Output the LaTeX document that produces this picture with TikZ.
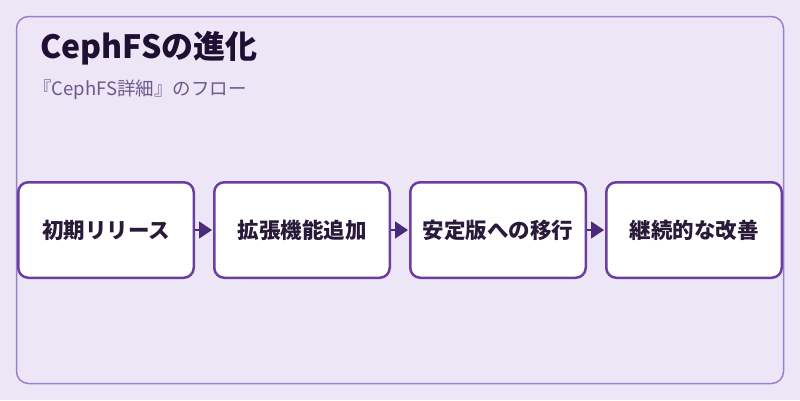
\documentclass[tikz,border=0pt]{standalone}
\usepackage{fontspec}
\setmainfont{Noto Sans CJK JP}
\usetikzlibrary{arrows.meta}
\definecolor{bgc}{HTML}{EDE6F6}
\definecolor{framec}{HTML}{9A7FD0}
\definecolor{boxc}{HTML}{6B3FA0}
\definecolor{titlec}{HTML}{1E0F33}
\definecolor{subc}{HTML}{6A5A8A}
\definecolor{arrc}{HTML}{4A2A7A}
\definecolor{txtc}{HTML}{2A1A3A}
\tikzset{
  stepbox/.style={draw=boxc, line width=2.5pt, fill=white, rounded corners=10pt,
    minimum width=175.5pt, minimum height=95.5pt, inner sep=0pt,
    font=\bfseries\fontsize{21.5}{25}\selectfont, text=txtc},
  flow/.style={draw=arrc, line width=1.5pt, -{Triangle[length=13pt,width=17pt]}, shorten >=1pt}
}
\begin{document}
\begin{tikzpicture}[x=1pt,y=-1pt]
\path[fill=bgc] (0,0) rectangle (800,400);
\useasboundingbox (0,0) rectangle (800,400);
\draw[framec, line width=1.5pt, rounded corners=12pt] (16.5,16.5) rectangle (783.5,383.5);
\node[anchor=base west, text=titlec, font=\bfseries\fontsize{32}{36}\selectfont, inner sep=0pt] (title) at (40,58) {CephFSの進化};
\node[anchor=base west, text=subc, font=\fontsize{18.5}{22}\selectfont, inner sep=0pt] (sub) at (33,95) {『CephFS詳細』のフロー};
\node[stepbox] (b1) at (106,230) {初期リリース};
\node[stepbox] (b2) at (302,230) {拡張機能追加};
\node[stepbox] (b3) at (498,230) {安定版への移行};
\node[stepbox] (b4) at (694,230) {継続的な改善};
\draw[flow] (b1.east) -- (b2.west);
\draw[flow] (b2.east) -- (b3.west);
\draw[flow] (b3.east) -- (b4.west);
\end{tikzpicture}
\end{document}
